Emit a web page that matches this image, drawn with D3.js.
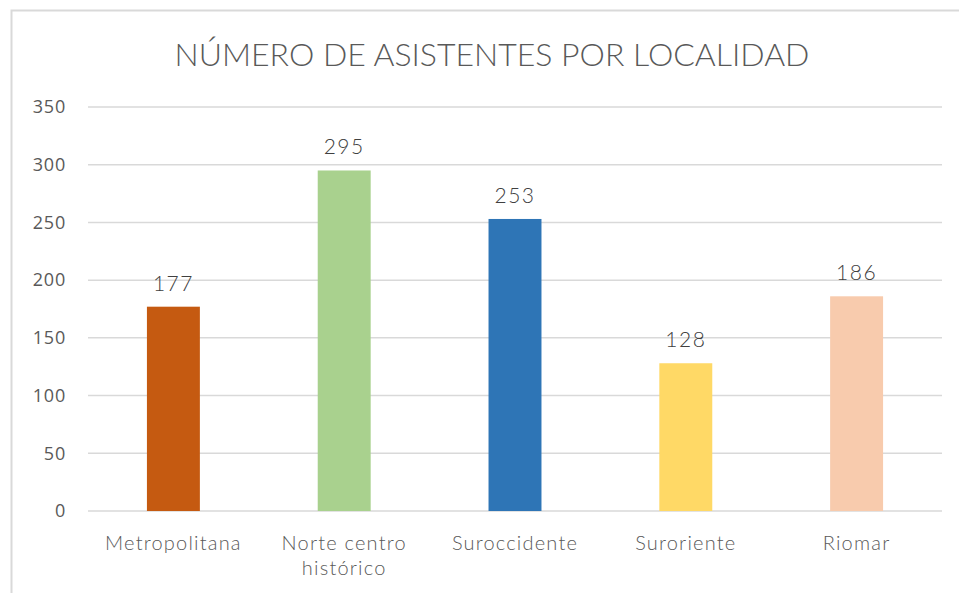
<!DOCTYPE html>
<meta charset="utf-8">
<script src="https://d3js.org/d3.v7.min.js"></script>
<style>
  body { margin: 0; background: #fff; }
</style>
<body>
<div id="chart"></div>
<script>
  // data
  var categories = ["Metropolitana", "Norte centro|histórico", "Suroccidente", "Suroriente", "Riomar"];
  var values = [177, 295, 253, 128, 186];
  var colors = ["#C55A11", "#A9D18E", "#2E75B6", "#FFD966", "#F8CBAD"];
  var yTicks = [0, 50, 100, 150, 200, 250, 300, 350];

  var W = 959, H = 593;
  var margin = {top: 107, right: 17, bottom: 82, left: 88},
      width = W - margin.left - margin.right,
      height = H - margin.top - margin.bottom;

  var root = d3.select("#chart").append("svg")
      .attr("width", W)
      .attr("height", H);

  // chart frame
  root.append("rect")
      .attr("x", 11.5).attr("y", 10.5)
      .attr("width", 970).attr("height", 600)
      .attr("fill", "none")
      .attr("stroke", "#d9d9d9")
      .attr("stroke-width", 2);

  root.append("text")
      .attr("x", 492).attr("y", 66)
      .attr("text-anchor", "middle")
      .attr("font-family", "Lato")
      .attr("font-weight", 300)
      .attr("font-size", "32px")
      .attr("fill", "#595959")
      .text("NÚMERO DE ASISTENTES POR LOCALIDAD");

  var svg = root.append("g")
      .attr("transform", "translate(" + margin.left + "," + margin.top + ")");

  var x = d3.scaleBand()
      .domain(categories)
      .range([0, width])
      .paddingInner(0.69)
      .paddingOuter(0.345);

  var y = d3.scaleLinear()
      .domain([0, 350])
      .range([height, 0]);

  // gridlines
  svg.append("g")
    .selectAll("line")
    .data(yTicks)
    .enter()
    .append("line")
      .attr("x1", 0).attr("x2", width)
      .attr("y1", function(d) { return y(d); })
      .attr("y2", function(d) { return y(d); })
      .attr("stroke", "#d9d9d9")
      .attr("stroke-width", 1.5);

  // y axis labels
  var yAxis = svg.append("g")
      .call(d3.axisLeft(y).tickValues(yTicks).tickSize(0).tickPadding(22));
  yAxis.select(".domain").remove();
  yAxis.selectAll("text")
      .attr("font-family", "Open Sans")
      .attr("font-size", "18px")
      .attr("letter-spacing", "0.8px")
      .attr("fill", "#595959");

  // bars
  svg.append("g")
    .selectAll("rect")
    .data(values)
    .enter()
    .append("rect")
      .attr("x", function(d, i) { return x(categories[i]); })
      .attr("y", function(d) { return y(d); })
      .attr("width", x.bandwidth())
      .attr("height", function(d) { return height - y(d); })
      .attr("fill", function(d, i) { return colors[i]; });

  // value labels
  svg.append("g")
    .selectAll("text")
    .data(values)
    .enter()
    .append("text")
      .attr("x", function(d, i) { return x(categories[i]) + x.bandwidth() / 2; })
      .attr("y", function(d) { return y(d) - 16; })
      .attr("text-anchor", "middle")
      .attr("font-family", "Lato")
      .attr("font-weight", 300)
      .attr("font-size", "21px")
      .attr("letter-spacing", "1.5px")
      .attr("fill", "#404040")
      .text(function(d) { return d; });

  // category labels (with line breaks)
  var xl = svg.append("g")
    .selectAll("text")
    .data(categories)
    .enter()
    .append("text")
      .attr("x", function(d) { return x(d) + x.bandwidth() / 2; })
      .attr("y", height + 39)
      .attr("text-anchor", "middle")
      .attr("font-family", "Lato")
      .attr("font-weight", 300)
      .attr("font-size", "20px")
      .attr("letter-spacing", "1.2px")
      .attr("fill", "#595959");
  xl.each(function(d) {
    var lines = d.split("|");
    var t = d3.select(this);
    lines.forEach(function(l, k) {
      t.append("tspan")
        .attr("x", t.attr("x"))
        .attr("dy", k === 0 ? 0 : 25)
        .text(l);
    });
  });
</script>
</body>
